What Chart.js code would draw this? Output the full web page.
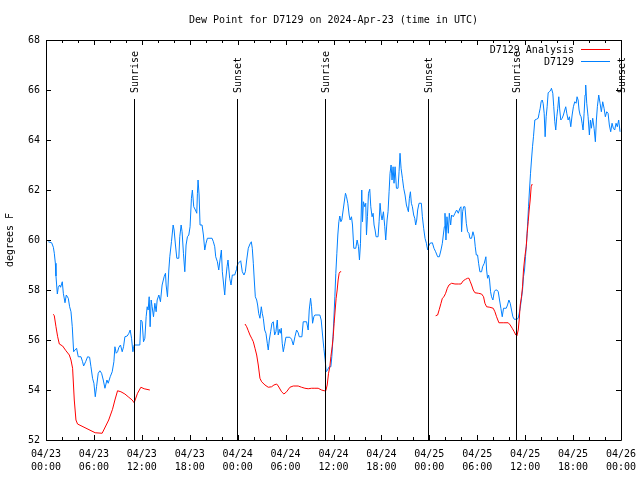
<!DOCTYPE html>
<html>
<head>
<meta charset="utf-8">
<title>Dew Point for D7129</title>
<script src="https://cdn.jsdelivr.net/npm/chart.js@4.4.1/dist/chart.umd.min.js"></script>
<style>
  html, body { margin: 0; padding: 0; background: #fff; }
  canvas { display: block; }
</style>
</head>
<body>
<canvas id="dewChart" width="640" height="480"></canvas>
<script>
// hours since 04/23 00:00 UTC
const titleText = 'Dew Point for D7129 on 2024-Apr-23 (time in UTC)';
const yAxisTitle = 'degrees F';
const seriesNames = ['D7129 Analysis', 'D7129'];
const xTickLabels = [
    ['04/23', '00:00'], ['04/23', '06:00'], ['04/23', '12:00'], ['04/23', '18:00'],
    ['04/24', '00:00'], ['04/24', '06:00'], ['04/24', '12:00'], ['04/24', '18:00'],
    ['04/25', '00:00'], ['04/25', '06:00'], ['04/25', '12:00'], ['04/25', '18:00'],
    ['04/26', '00:00']
];

const sunHours = [11.04, 23.875, 34.91, 47.875, 58.91, 71.96];
const sunLabels = ['Sunrise', 'Sunset', 'Sunrise', 'Sunset', 'Sunrise', 'Sunset'];

const blueHours = [
    0.29, 0.71, 0.92, 1.04, 1.17, 1.25, 1.42, 1.54, 1.71, 1.83, 2.04, 2.17, 2.38, 2.54, 2.79, 2.96,
    3.13, 3.29, 3.46, 3.63, 3.83, 4.04, 4.38, 4.58, 4.71, 4.96, 5.21, 5.46, 5.63, 5.83, 6.0, 6.17,
    6.33, 6.54, 6.75, 6.96, 7.17, 7.38, 7.63, 7.79, 8.04, 8.29, 8.5, 8.63, 8.79, 8.96, 9.13, 9.33,
    9.54, 9.71, 9.88, 10.17, 10.38, 10.54, 10.71, 10.88, 10.96, 11.04, 11.75, 11.88, 12.04, 12.21,
    12.38, 12.54, 12.67, 12.79, 12.92, 13.04, 13.17, 13.29, 13.46, 13.63, 13.79, 13.92, 14.13, 14.33,
    14.54, 14.79, 14.96, 15.04, 15.21, 15.38, 15.5, 15.71, 15.92, 16.04, 16.21, 16.38, 16.63, 16.75,
    16.92, 17.04, 17.21, 17.38, 17.54, 17.71, 17.88, 18.04, 18.21, 18.33, 18.5, 18.71, 18.88, 18.96,
    19.04, 19.17, 19.29, 19.54, 19.71, 19.88, 20.04, 20.21, 20.79, 20.96, 21.13, 21.25, 21.46, 21.63,
    21.79, 21.96, 22.08, 22.25, 22.38, 22.5, 22.67, 22.79, 23.0, 23.17, 23.33, 23.63, 23.83,
    23.88, 24.08, 24.38, 24.58, 24.79, 24.96, 25.13, 25.33, 25.54, 25.71, 25.83, 25.96, 26.08, 26.21,
    26.38, 26.5, 26.63, 26.79, 26.96, 27.08, 27.21, 27.38, 27.54, 27.71, 27.83, 27.96, 28.13, 28.29,
    28.46, 28.63, 28.79, 28.96, 29.08, 29.21, 29.33, 29.46, 29.58, 29.71, 29.83, 30.04, 30.54, 30.75,
    30.96, 31.17, 31.38, 31.58, 31.71, 32.04, 32.21, 32.63, 32.83, 32.96, 33.13, 33.25, 33.38, 33.54,
    33.67, 34.29, 34.46, 34.63, 34.79, 34.96, 35.08, 35.25, 35.46, 35.67, 35.79, 35.92, 36.04, 36.17,
    36.29, 36.42, 36.54, 36.67, 36.79, 36.92, 37.04, 37.21, 37.38, 37.5, 37.63, 37.79, 37.96, 38.08,
    38.25, 38.38, 38.54, 38.79, 38.96, 39.13, 39.25, 39.38, 39.54, 39.63, 39.75, 39.92, 40.04, 40.13,
    40.25, 40.38, 40.54, 40.67, 40.83, 40.96, 41.08, 41.21, 41.33, 41.58, 41.71, 41.83, 41.96, 42.08,
    42.25, 42.42, 42.54, 42.71, 42.83, 42.96, 43.08, 43.21, 43.33, 43.46, 43.58, 43.71, 43.88, 44.08,
    44.21, 44.33, 44.46, 44.63, 44.79, 44.96, 45.13, 45.25, 45.38, 45.5, 45.63, 45.75, 45.88, 46.04,
    46.17, 46.29, 46.42, 46.54, 46.71, 47.0, 47.13, 47.29, 47.46, 47.63, 47.79,
    47.88, 48.08, 48.38, 48.58, 48.79, 49.04, 49.25, 49.46, 49.63, 49.75, 49.88, 49.96, 50.08, 50.21,
    50.38, 50.5, 50.67, 50.79, 51.0, 51.21, 51.42, 51.63, 51.83, 51.96, 52.04, 52.17, 52.29, 52.46,
    52.63, 52.79, 52.96, 53.08, 53.29, 53.46, 53.63, 53.75, 53.88, 54.04, 54.17, 54.33, 54.54, 54.67,
    54.88, 55.08, 55.17, 55.29, 55.42, 55.54, 55.67, 55.79, 55.96, 56.13, 56.29, 56.46, 56.63, 56.79,
    56.96, 57.13, 57.29, 57.63, 57.79, 57.96, 58.13, 58.29, 58.46, 58.63, 58.96, 59.13, 59.25, 59.38,
    59.54, 59.67, 59.79, 59.92, 60.04, 60.17, 60.29, 60.42, 60.54, 60.67, 60.79, 60.92, 61.04, 61.21,
    61.42, 61.63, 61.75, 61.88, 62.0, 62.13, 62.25, 62.38, 62.5, 62.63, 62.75, 62.88, 63.04, 63.21,
    63.29, 63.46, 63.58, 63.71, 63.83, 63.96, 64.08, 64.21, 64.33, 64.46, 64.63, 64.79, 64.96, 65.08,
    65.21, 65.38, 65.54, 65.71, 65.88, 66.04, 66.21, 66.38, 66.5, 66.63, 66.75, 66.88, 67.0, 67.13,
    67.25, 67.38, 67.5, 67.58, 67.71, 67.88, 68.04, 68.17, 68.29, 68.46, 68.63, 68.79, 68.92, 69.04,
    69.21, 69.38, 69.54, 69.71, 69.88, 70.04, 70.21, 70.38, 70.54, 70.71, 70.88, 71.04, 71.21, 71.38,
    71.54, 71.71, 71.88
];
const blueValues = [
    59.93, 59.89, 59.71, 59.47, 59.07, 58.56, 57.84, 58.11, 58.2, 58.11, 58.33, 57.87, 57.49, 57.8, 57.67, 57.33,
    57.13, 56.53, 55.53, 55.6, 55.67, 55.33, 55.33, 55.13, 54.96, 55.13, 55.33, 55.31, 54.93, 54.47, 54.27, 53.73,
    54.13, 54.67, 54.77, 54.67, 54.4, 54.07, 54.4, 54.27, 54.53, 54.73, 55.13, 55.73, 55.47, 55.53, 55.71, 55.8,
    55.53, 55.73, 56.13, 56.16, 56.27, 56.4, 56.07, 55.53, 55.67, 55.8, 55.8, 56.8, 56.73, 55.93,
    56.07, 56.93, 57.33, 57.2, 57.73, 56.53, 57.6, 57.33, 56.93, 57.47, 57.13, 57.6, 57.8, 57.53,
    58.2, 58.53, 58.67, 58.2, 57.73, 58.8, 59.33, 59.93, 60.6, 60.4, 59.8, 59.27, 59.27, 60.13,
    60.6, 60.33, 59.47, 58.73, 59.8, 60.13, 60.2, 60.53, 61.67, 62.0, 61.33, 61.2, 61.07, 61.87,
    62.4, 61.8, 60.6, 60.6, 60.2, 59.6, 59.87, 60.07, 60.07, 59.93, 59.73, 59.33, 59.13, 58.8,
    59.2, 59.6, 58.73, 58.2, 57.8, 58.4, 58.93, 59.2, 58.47, 58.2, 58.6, 58.6, 58.8,
    58.93, 59.07, 59.17, 58.73, 58.6, 58.73, 59.2, 59.67, 59.84, 59.93, 59.67, 59.07, 58.4, 57.73,
    57.6, 57.4, 57.07, 56.87, 57.33, 57.07, 56.87, 56.4, 56.27, 55.87, 55.6, 56.0, 56.33, 56.67,
    56.73, 56.2, 56.33, 56.8, 56.2, 56.43, 56.27, 56.47, 55.87, 55.53, 55.73, 56.11, 56.11, 56.03,
    55.8, 56.13, 56.4, 56.29, 56.13, 56.13, 56.73, 56.73, 56.4, 57.2, 57.67, 57.33, 56.67, 56.93,
    57.0, 57.0, 56.8, 56.2, 55.67, 55.2, 54.73, 54.8, 54.93, 54.93, 55.33, 56.0, 56.8, 57.73,
    58.67, 59.47, 60.2, 60.73, 60.96, 60.73, 60.8, 61.2, 61.6, 61.87, 61.73, 61.47, 61.0, 60.8,
    60.93, 60.6, 59.67, 59.67, 60.0, 59.73, 59.2, 59.87, 62.0, 60.73, 61.53, 61.33, 61.47, 60.2,
    60.93, 61.87, 62.03, 61.33, 60.93, 61.07, 60.6, 60.4, 60.13, 60.13, 60.73, 61.47, 61.0, 60.8,
    61.13, 60.53, 60.0, 60.8, 61.13, 61.93, 62.67, 63.0, 62.4, 62.93, 62.27, 62.93, 62.07, 62.07,
    62.73, 63.47, 62.87, 62.47, 62.07, 61.8, 61.4, 61.27, 61.13, 61.67, 61.93, 61.47, 61.33, 61.0,
    60.87, 60.6, 60.8, 61.2, 61.47, 61.47, 60.93, 60.47, 60.07, 59.87, 59.6,
    59.73, 59.87, 59.89, 59.67, 59.53, 59.33, 59.33, 59.6, 59.87, 60.2, 60.53, 61.07, 60.0, 60.93,
    60.27, 61.07, 60.6, 61.0, 60.93, 61.07, 61.2, 61.07, 61.27, 61.33, 60.33, 61.13, 61.33, 61.33,
    60.67, 60.33, 60.27, 60.07, 60.07, 60.33, 60.13, 59.73, 59.4, 59.4, 59.07, 58.73, 58.73, 58.93,
    59.07, 59.33, 58.8, 58.47, 58.6, 58.4, 57.93, 57.73, 57.6, 57.93, 58.0, 58.0, 57.93, 57.6,
    57.27, 56.93, 57.27, 57.27, 57.4, 57.6, 57.47, 57.2, 56.93, 56.83, 56.83, 56.87, 57.07, 57.27,
    57.67, 58.0, 58.53, 58.8, 59.33, 59.87, 60.53, 61.33, 62.0, 62.67, 63.2, 63.73, 64.13, 64.8,
    64.83, 64.87, 65.07, 65.27, 65.53, 65.6, 65.47, 65.07, 64.13, 64.93, 65.33, 65.89, 65.93, 66.0,
    66.07, 65.87, 65.33, 64.73, 64.4, 64.93, 65.27, 65.73, 65.2, 64.8, 64.87, 65.0, 65.2, 65.33,
    65.07, 64.8, 64.93, 64.53, 65.0, 65.33, 65.53, 65.47, 65.73, 65.6, 65.2, 65.0, 64.93, 64.67,
    64.4, 65.07, 65.8, 66.2, 65.47, 64.93, 64.2, 64.8, 64.47, 64.87, 64.47, 63.93, 64.8, 65.33,
    65.8, 65.47, 65.13, 65.53, 65.27, 64.93, 65.13, 65.07, 64.6, 64.33, 64.67, 64.47, 64.4, 64.67,
    64.53, 64.8, 64.33
];

// analysis series, null marks the gaps between runs
const redHours = [
    0.92, 1.04, 1.25, 1.46, 1.67, 2.08, 2.5, 2.92, 3.13, 3.33, 3.54, 3.75, 3.95, 6.16, 7.03, 7.85,
    8.33, 8.63, 8.96, 9.38, 9.88, 10.29, 10.79, 11.04, 11.46, 11.88, 12.29, 13.0,
    18.0,
    24.92, 25.13, 25.33, 25.54, 25.75, 25.96, 26.17, 26.38, 26.58, 26.79, 27.0, 27.42, 27.83, 28.25,
    28.54, 28.88, 29.08, 29.5, 29.79, 30.13, 30.54, 30.96, 31.58, 32.0, 32.42, 32.83, 33.25, 33.67,
    34.08, 34.5, 34.83, 35.04, 35.21, 35.38, 35.54, 35.67, 35.83, 35.96, 36.08, 36.21, 36.33, 36.46,
    36.58, 36.71, 36.83, 36.96,
    42.0,
    48.79, 49.04, 49.25, 49.46, 49.63, 49.83, 50.04, 50.25, 50.46, 50.79, 51.21, 51.63, 51.96, 52.25,
    52.54, 52.79, 52.96, 53.13, 53.29, 53.5, 53.71, 54.13, 54.54, 54.79, 54.96, 55.17, 55.58, 56.0,
    56.21, 56.42, 56.71, 57.25, 57.88, 58.13, 58.38, 58.63, 58.83, 58.96, 59.13, 59.25, 59.38, 59.54,
    59.67, 59.79, 59.96, 60.13, 60.25, 60.38, 60.5, 60.63, 60.75, 60.88
];
const redValues = [
    57.03, 56.97, 56.53, 56.13, 55.84, 55.76, 55.57, 55.4, 55.2, 54.87, 53.6, 52.8, 52.64, 52.29, 52.27, 52.8,
    53.23, 53.6, 53.97, 53.93, 53.84, 53.73, 53.6, 53.49, 53.87, 54.11, 54.05, 54.0,
    null,
    56.64, 56.53, 56.37, 56.2, 56.07, 55.93, 55.67, 55.4, 55.0, 54.47, 54.33, 54.2, 54.11, 54.13,
    54.2, 54.24, 54.16, 53.93, 53.84, 53.93, 54.11, 54.16, 54.16, 54.11, 54.07, 54.05, 54.07, 54.07,
    54.07, 54.0, 53.97, 53.97, 54.2, 54.67, 54.93, 55.33, 55.73, 56.13, 56.67, 57.2, 57.67, 58.0,
    58.4, 58.67, 58.73, 58.73,
    null,
    56.97, 57.0, 57.23, 57.47, 57.67, 57.73, 57.87, 58.07, 58.2, 58.27, 58.24, 58.24, 58.24, 58.37,
    58.43, 58.47, 58.47, 58.33, 58.2, 58.0, 57.89, 57.87, 57.84, 57.73, 57.47, 57.33, 57.31, 57.27,
    57.13, 56.93, 56.69, 56.69, 56.69, 56.6, 56.47, 56.33, 56.2, 56.16, 56.4, 56.8, 57.4, 57.73,
    58.13, 58.8, 59.33, 59.73, 60.27, 60.73, 61.2, 61.6, 62.13, 62.24
];

const FONT = "'DejaVu Sans Mono', 'Liberation Mono', monospace";
const RED = '#ff0000';
const BLUE = '#0080ff';

function toPoints(hours, values) {
    return hours.map((h, i) => ({ x: h, y: values[i] }));
}

// gnuplot-like decorations: frame, inward ticks, sun lines, legend, titles
const gnuplotLook = {
    id: 'gnuplotLook',
    afterDraw(chart) {
        const ctx = chart.ctx;
        const area = chart.chartArea;
        const xs = chart.scales.x;
        const ys = chart.scales.y;
        const px = v => Math.round(v) + 0.5;

        ctx.save();
        ctx.strokeStyle = '#000';
        ctx.fillStyle = '#000';
        ctx.lineWidth = 1;

        // sunrise / sunset markers
        ctx.font = '10px ' + FONT;
        sunHours.forEach((h, i) => {
            const x = px(xs.getPixelForValue(h));
            ctx.beginPath();
            ctx.moveTo(x, area.top + 59);
            ctx.lineTo(x, area.bottom);
            ctx.stroke();
            ctx.save();
            ctx.translate(x + 1, area.top + 53);
            ctx.rotate(-Math.PI / 2);
            ctx.textAlign = 'left';
            ctx.textBaseline = 'middle';
            ctx.fillText(sunLabels[i], 0, 0);
            ctx.restore();
        });

        // frame
        ctx.beginPath();
        ctx.rect(px(area.left), px(area.top), Math.round(area.right - area.left), Math.round(area.bottom - area.top));
        ctx.stroke();

        // x ticks (major every 6 h, minor every 2 h), top and bottom
        for (let h = xs.min; h <= xs.max; h += 2) {
            const x = px(xs.getPixelForValue(h));
            const len = (h % 6 === 0) ? 5 : 3;
            ctx.beginPath();
            ctx.moveTo(x, area.bottom);
            ctx.lineTo(x, area.bottom - len);
            ctx.moveTo(x, area.top);
            ctx.lineTo(x, area.top + len);
            ctx.stroke();
        }
        // y ticks, left and right
        ys.ticks.forEach(t => {
            const y = px(ys.getPixelForValue(t.value));
            ctx.beginPath();
            ctx.moveTo(area.left, y);
            ctx.lineTo(area.left + 5, y);
            ctx.moveTo(area.right, y);
            ctx.lineTo(area.right - 5, y);
            ctx.stroke();
        });

        // title and y axis label
        ctx.fillStyle = '#000';
        ctx.textAlign = 'center';
        ctx.textBaseline = 'middle';
        ctx.fillText(titleText, (area.left + area.right) / 2, 20);
        ctx.save();
        ctx.translate(10, (area.top + area.bottom) / 2);
        ctx.rotate(-Math.PI / 2);
        ctx.fillText(yAxisTitle, 0, 0);
        ctx.restore();

        // legend, top right: text then a 1px sample bar in the series colour
        const legendColors = [RED, BLUE];
        seriesNames.forEach((name, i) => {
            const y = Math.round(area.top + 10 + i * 12);
            ctx.fillStyle = '#000';
            ctx.textAlign = 'right';
            ctx.fillText(name, area.right - 47, y);
            ctx.fillStyle = legendColors[i];
            ctx.fillRect(Math.round(area.right - 40), y - 1, 29, 1);
        });

        ctx.restore();
    }
};

const ctx = document.getElementById('dewChart').getContext('2d');
window.dewChart = new Chart(ctx, {
    type: 'line',
    data: {
        datasets: [
            {
                label: seriesNames[0],
                data: toPoints(redHours, redValues),
                borderColor: RED,
                borderWidth: 1,
                pointRadius: 0,
                tension: 0,
                spanGaps: false
            },
            {
                label: seriesNames[1],
                data: toPoints(blueHours, blueValues),
                borderColor: BLUE,
                borderWidth: 1,
                pointRadius: 0,
                tension: 0
            }
        ]
    },
    options: {
        responsive: false,
        animation: false,
        events: [],
        layout: {
            padding: { top: 40, right: 19, left: 0, bottom: 0 }
        },
        plugins: {
            legend: { display: false },
            tooltip: { enabled: false },
            title: { display: false }
        },
        scales: {
            x: {
                type: 'linear',
                min: 0,
                max: 72,
                grid: { display: false, drawTicks: false },
                border: { display: false },
                ticks: {
                    stepSize: 6,
                    autoSkip: false,
                    maxRotation: 0,
                    padding: 8,
                    color: '#000',
                    font: { family: FONT, size: 10, lineHeight: 1.3 },
                    callback: value => xTickLabels[Math.round(value / 6)]
                },
                afterFit: scale => {
                    scale.height = 40;
                    scale.paddingLeft = 0;
                    scale.paddingRight = 0;
                }
            },
            y: {
                min: 52,
                max: 68,
                grid: { display: false, drawTicks: false },
                border: { display: false },
                ticks: {
                    stepSize: 2,
                    padding: 6,
                    color: '#000',
                    font: { family: FONT, size: 10 }
                },
                afterFit: scale => {
                    scale.width = 46;
                    scale.paddingTop = 0;
                    scale.paddingBottom = 0;
                }
            }
        }
    },
    plugins: [gnuplotLook]
});
</script>
</body>
</html>
